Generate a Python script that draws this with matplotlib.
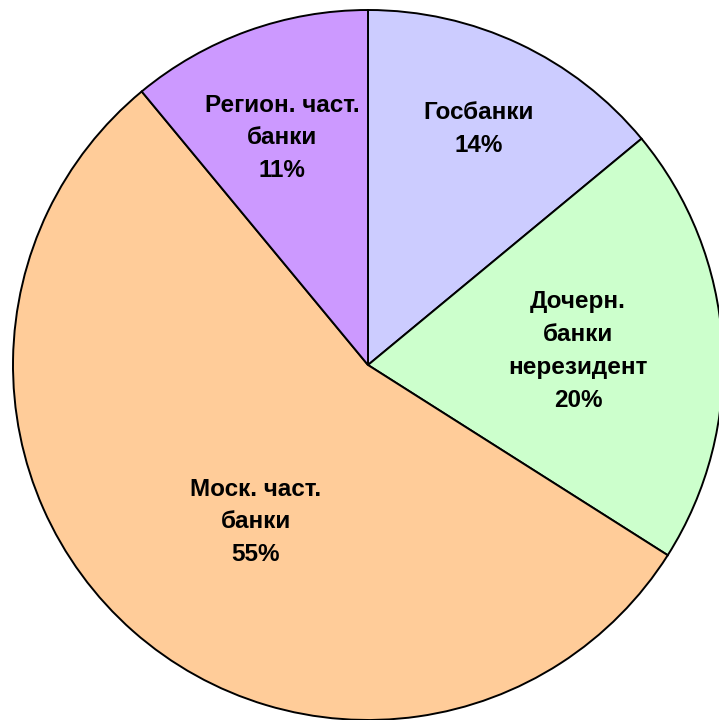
import matplotlib
matplotlib.use("Agg")
import matplotlib.pyplot as plt

# Bank segment shares, percent
categories = ["Госбанки", "Дочерн.\nбанки\nнерезидент", "Моск. част.\nбанки", "Регион. част.\nбанки"]
shares = [14, 20, 55, 11]
colors = ["#CCCCFF", "#CCFFCC", "#FFCC99", "#CC99FF"]

# label anchor points in pixel coordinates (x from left, y from top)
label_pos = [(479, 129), (578, 351), (256, 522), (282, 138)]

W, H = 719, 720
fig = plt.figure(figsize=(W / 100, H / 100), dpi=100)
ax = fig.add_axes([0, 0, 1, 1])

cx, cy, r = 368, 365, 355
ax.pie(shares, colors=colors, startangle=90, counterclock=False,
       center=(cx, H - cy), radius=r, frame=True,
       wedgeprops=dict(edgecolor="black", linewidth=1.4))
ax.set_xlim(0, W)
ax.set_ylim(0, H)
ax.set_aspect("equal")
ax.axis("off")

for name, val, (px, py) in zip(categories, shares, label_pos):
    ax.text(px, H - py, f"{name}\n{val}%", ha="center", va="center",
            fontsize=17.5, fontweight="bold", family="Liberation Sans",
            linespacing=1.54, color="black")

fig.savefig("out.png", dpi=100)
